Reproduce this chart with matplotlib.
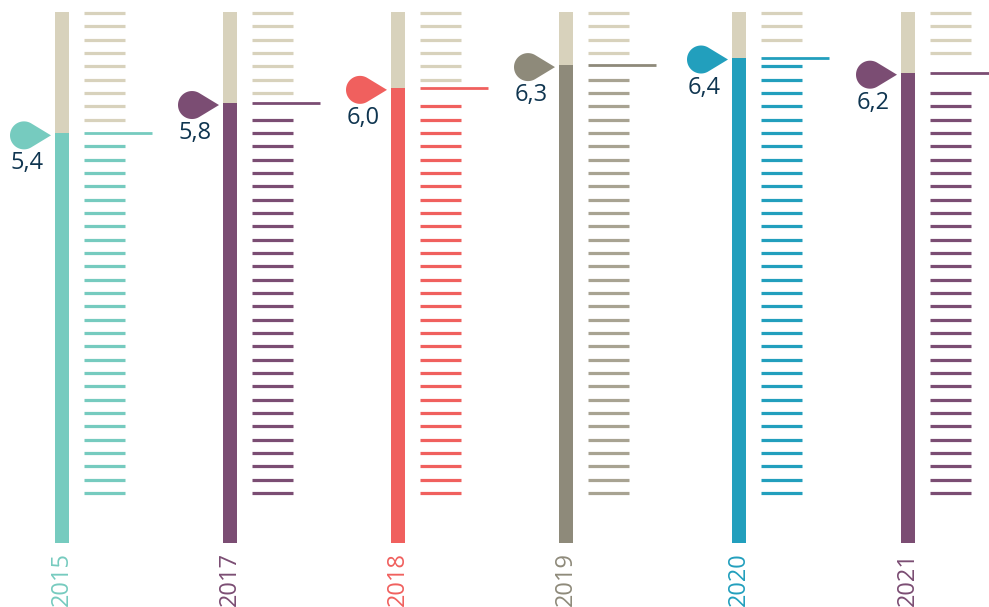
'''Thermometer style chart of yearly scores'''
import numpy as np
import matplotlib
matplotlib.use('Agg')
import matplotlib.pyplot as plt
from matplotlib.patches import Polygon

plt.rcParams['font.family'] = ['Open Sans', 'DejaVu Sans']

years = ['2015', '2017', '2018', '2019', '2020', '2021']
values = [5.4, 5.8, 6.0, 6.3, 6.4, 6.2]
labels = ['5,4', '5,8', '6,0', '6,3', '6,4', '6,2']
colors = ['#76cbbf', '#7b4d73', '#f0605e', '#8e8a7a', '#229fbd', '#7b4d73']
tick_colors = ['#76cbbf', '#7b4d73', '#f0605e', '#a8a392', '#229fbd', '#7b4d73']
bar_x = [62, 230, 398, 566, 739, 908]   # pixel columns of the bars
empty_color = '#d8d2bc'
label_color = '#0f3550'
scale_max = 7.0

# pixel geometry: value 0 sits at y=543px, value 7 at y=12px
PX = 531 / scale_max
W, H = 989, 607

fig = plt.figure(figsize=(W / 100, H / 100), dpi=100)
ax = fig.add_axes([0, 0, 1, 1])
ax.set_xlim(0, W)
ax.set_ylim(-(H - 543) / PX, 543 / PX)
ax.axis('off')

# decorative scale ticks (37 evenly spaced marks)
tick_vals = np.linspace(530 / PX, 50 / PX, 37)


def teardrop(tip_x, tip_y, r=14, d=27):
    '''teardrop marker pointing right, built in pixels then scaled to data units'''
    cx = tip_x - d
    th = np.arccos(r / d)
    ang = np.linspace(th, 2 * np.pi - th, 60)
    xs = cx + r * np.cos(ang)
    ys = r * np.sin(ang)
    xs = np.append(xs, tip_x)
    ys = np.append(ys, 0)
    return np.column_stack([xs, tip_y + ys / PX])


for i in range(len(years)):
    x = bar_x[i]
    v = values[i]
    # empty part and filled part of the tube
    ax.bar(x, scale_max - v, bottom=v, width=14, color=empty_color, linewidth=0)
    ax.bar(x, v, bottom=0, width=14, color=colors[i], linewidth=0)

    # tick marks
    x0 = x + 22
    for t in tick_vals:
        if abs(t - v) * PX < 7:
            continue
        c = tick_colors[i] if t < v else empty_color
        ax.plot([x0, x0 + 41], [t, t], color=c, lw=2.3, solid_capstyle='butt')
    # value line
    ax.plot([x0, x0 + 68], [v, v], color=colors[i], lw=2, solid_capstyle='butt')

    # marker + label
    ax.add_patch(Polygon(teardrop(x - 11, v - 2 / PX), closed=True,
                         color=colors[i], linewidth=0))
    ax.text(x - 35, v - 30 / PX, labels[i], ha='center', va='center',
            fontsize=17, color=label_color)

    # year label
    ax.text(x, -9 / PX, years[i], rotation=90, ha='center', va='top',
            fontsize=17, color=colors[i])

fig.savefig('out.png', dpi=100)
